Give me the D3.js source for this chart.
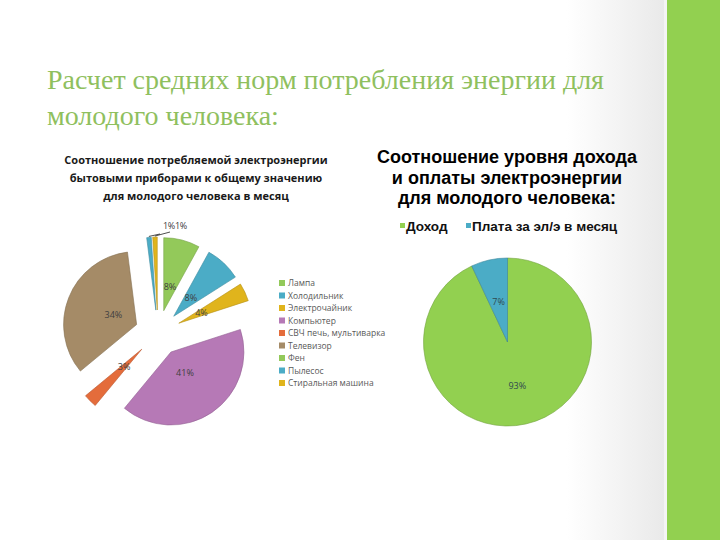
<!DOCTYPE html>
<html><head><meta charset="utf-8">
<script src="https://cdn.jsdelivr.net/npm/d3@7"></script>
<style>html,body{margin:0;padding:0;background:#fff;}svg{display:block;}</style>
</head><body>
<script>
// ---- data ----
const slideTitle = ["Расчет средних норм потребления энергии для", "молодого человека:"];
const leftTitle = ["Соотношение потребляемой электроэнергии", "бытовыми приборами к общему значению", "для молодого человека в месяц"];
const leftCategories = ["Лампа", "Холодильник", "Электрочайник", "Компьютер", "СВЧ печь, мультиварка", "Телевизор", "Фен", "Пылесос", "Стиральная машина"];
const leftValues = [8, 8, 4, 41, 3, 34, 0, 1, 1];
const leftColors = ["#93c95a", "#4bacc6", "#e0b41c", "#b679b6", "#e46c3b", "#a58b67", "#93c95a", "#4bacc6", "#e0b41c"];
const rightTitle = ["Соотношение уровня дохода", "и оплаты электроэнергии", "для молодого человека:"];
const rightCategories = ["Доход", "Плата за эл/э в месяц"];
const rightValues = [93, 7];
const rightColors = ["#92d050", "#4bacc6"];

const W = 720, H = 540;
const svg = d3.select("body").append("svg").attr("width", W).attr("height", H);
const defs = svg.append("defs");
const g1 = defs.append("linearGradient").attr("id", "bgGrad").attr("x1", "0").attr("x2", "1").attr("y1", "0").attr("y2", "0");
g1.append("stop").attr("offset", "0").attr("stop-color", "#ffffff");
g1.append("stop").attr("offset", "0.85").attr("stop-color", "#ffffff");
g1.append("stop").attr("offset", "1").attr("stop-color", "#e9e9e9");
svg.append("rect").attr("width", 666).attr("height", H).attr("fill", "url(#bgGrad)");
svg.append("rect").attr("x", 664).attr("width", 3).attr("height", H).attr("fill", "#f4f4f4");
svg.append("rect").attr("x", 667).attr("width", W - 667).attr("height", H).attr("fill", "#92d050");

// slide title
svg.append("g").selectAll("text").data(slideTitle).join("text")
  .attr("x", 47).attr("y", (d, i) => 89 + i * 36)
  .attr("font-family", "Liberation Serif, serif").attr("font-size", 28)
  .attr("fill", "#8fc05e").text(d => d);

// ---- left chart ----
svg.append("g").selectAll("text").data(leftTitle).join("text")
  .attr("x", 196).attr("y", (d, i) => 164 + i * 18).attr("text-anchor", "middle")
  .attr("font-family", "Open Sans, sans-serif").attr("font-weight", "bold").attr("font-size", 11)
  .attr("fill", "#1a1a1a").text(d => d);

const cx = 158, cy = 333, R = 73, explode = 23;
const pieL = d3.pie().sort(null).value(d => d.v);
const leftData = leftCategories.map((c, i) => ({c, v: leftValues[i], col: leftColors[i]}));
const arcsL = pieL(leftData);
const arcL = d3.arc().innerRadius(0).outerRadius(R);
const gL = svg.append("g").attr("transform", `translate(${cx},${cy})`);
arcsL.forEach(a => {
  const mid = (a.startAngle + a.endAngle) / 2;
  a.ox = explode * Math.sin(mid); a.oy = -explode * Math.cos(mid); a.mid = mid;
});
gL.selectAll("path").data(arcsL.filter(a => a.data.v > 0)).join("path")
  .attr("transform", a => `translate(${a.ox},${a.oy})`)
  .attr("d", arcL).attr("fill", a => a.data.col)
  .attr("stroke", a => d3.color(a.data.col).darker(0.6)).attr("stroke-width", 0.6);
// inside labels for big slices
gL.selectAll("text.in").data(arcsL.filter(a => a.data.v >= 3)).join("text").attr("class", "in")
  .attr("x", a => a.ox + 25 * Math.sin(a.mid)).attr("y", a => a.oy - 25 * Math.cos(a.mid) + 3)
  .attr("text-anchor", "middle").attr("font-family", "Open Sans, sans-serif").attr("font-size", 9)
  .attr("fill", "#404040").text(a => a.data.v + "%");
// outside labels for small slices
const small = arcsL.filter(a => a.data.v > 0 && a.data.v < 3);
small.forEach((a, k) => {
  const ex = a.ox + (R + 1) * Math.sin(a.mid), ey = a.oy - (R + 1) * Math.cos(a.mid);
  const tx = 5 + k * 12, ty = -104;
  gL.append("line").attr("x1", ex).attr("y1", ey).attr("x2", tx - (k === 0 ? 3 : 5)).attr("y2", ty + (k === 0 ? 5 : 3))
    .attr("stroke", "#222").attr("stroke-width", 0.8);
  gL.append("text").attr("x", tx).attr("y", ty).attr("font-family", "Open Sans, sans-serif").attr("font-size", 9)
    .attr("letter-spacing", -0.3).attr("fill", "#404040").text(a.data.v + "%");
});
// left legend
const legL = svg.append("g").attr("transform", "translate(279,280)");
const li = legL.selectAll("g").data(leftData).join("g").attr("transform", (d, i) => `translate(0,${i * 12.5})`);
li.append("rect").attr("width", 6).attr("height", 6).attr("fill", d => d.col);
li.append("text").attr("x", 9).attr("y", 6).attr("font-family", "Open Sans, sans-serif").attr("font-size", 8.5)
  .attr("fill", "#595959").text(d => d.c);

// ---- right chart ----
svg.append("g").selectAll("text").data(rightTitle).join("text")
  .attr("x", 507).attr("y", (d, i) => 163 + i * 20.5).attr("text-anchor", "middle")
  .attr("font-family", "Liberation Sans, Arial, sans-serif").attr("font-weight", "bold").attr("font-size", 18)
  .attr("fill", "#000").text(d => d);
const legR = svg.append("g").attr("transform", "translate(400,226)");
const legRx = [0, 66];
const ri = legR.selectAll("g").data(rightCategories).join("g").attr("transform", (d, i) => `translate(${legRx[i]},0)`);
ri.append("rect").attr("y", -3).attr("width", 5).attr("height", 5).attr("fill", (d, i) => rightColors[i]);
ri.append("text").attr("x", 6).attr("y", 5).attr("font-family", "Liberation Sans, Arial, sans-serif").attr("font-size", 13.5)
  .attr("font-weight", "bold").attr("fill", "#111").text(d => d);

const rcx = 507.5, rcy = 342, RR = 84;
const pieR = d3.pie().sort(null).value(d => d);
const arcsR = pieR(rightValues);
const arcR = d3.arc().innerRadius(0).outerRadius(RR);
const gR = svg.append("g").attr("transform", `translate(${rcx},${rcy})`);
gR.selectAll("path").data(arcsR).join("path").attr("d", arcR)
  .attr("fill", (d, i) => rightColors[i]).attr("stroke", (d, i) => d3.color(rightColors[i]).darker(0.7)).attr("stroke-width", 0.6);
const lblR = [45, 41];
gR.selectAll("text").data(arcsR).join("text")
  .attr("x", (a, i) => lblR[i] * Math.sin((a.startAngle + a.endAngle) / 2))
  .attr("y", (a, i) => -lblR[i] * Math.cos((a.startAngle + a.endAngle) / 2) + 3)
  .attr("text-anchor", "middle").attr("font-family", "Open Sans, sans-serif").attr("font-size", 9)
  .attr("fill", "#2f4a4f").text(a => a.data + "%");
</script>
</body></html>
